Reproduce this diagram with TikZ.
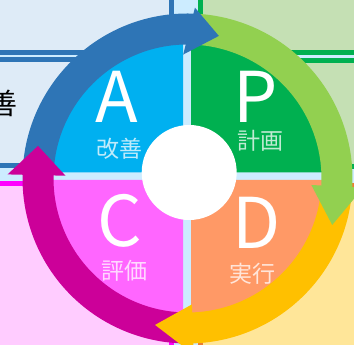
\documentclass[tikz,border=0pt]{standalone}
\usepackage{fontspec}
\newfontfamily\jpfont{Noto Sans CJK JP}
\definecolor{bandcol}{HTML}{CCECFF}
\definecolor{tlfill}{HTML}{DEEBF7}
\definecolor{tlline}{HTML}{2E75B6}
\definecolor{trfill}{HTML}{C5E0B4}
\definecolor{trline}{HTML}{00B050}
\definecolor{blfill}{HTML}{FFCCFF}
\definecolor{blline}{HTML}{FF00FF}
\definecolor{brfill}{HTML}{FFE699}
\definecolor{brline}{HTML}{ED7D31}
\definecolor{qA}{HTML}{00B0F0}
\definecolor{qP}{HTML}{00B050}
\definecolor{qC}{HTML}{FF66FF}
\definecolor{qD}{HTML}{FF9966}
\definecolor{arrA}{HTML}{2E75B6}
\definecolor{arrP}{HTML}{92D050}
\definecolor{arrD}{HTML}{FFC000}
\definecolor{arrC}{HTML}{CC0099}

\begin{document}
\begin{tikzpicture}[x=1pt, y=1pt,
    panel/.style={line width=5pt},
    bigletter/.style={white, font=\jpfont\fontsize{70}{70}\selectfont, anchor=base, inner sep=0pt},
    jplabel/.style={font=\jpfont\fontsize{23}{23}\selectfont, inner sep=0pt}]
    \useasboundingbox (0,0) rectangle (354,345);
    \clip (0,0) rectangle (354,345);

    % Panels behind the cycle
    \fill[bandcol] (0,0) rectangle (354,345);
    \draw[panel, fill=tlfill, draw=tlline] (-10,292.5) rectangle (171.5,355);
    \draw[panel, fill=tlfill, draw=tlline] (-10,179) rectangle (171.5,285.5);
    \draw[panel, fill=trfill, draw=trline] (200,292.5) rectangle (364,355);
    \draw[panel, fill=trfill, draw=trline] (200,178) rectangle (364,284.5);
    \draw[panel, fill=blfill, draw=blline] (-10,-10) rectangle (171.5,161.5);
    \draw[panel, fill=brfill, draw=brline] (200,-10) rectangle (364,159);
    \node[font=\jpfont\fontsize{29}{29}\selectfont, inner sep=0pt] (kaizen) at (2.5,241.5) {善};

    % Quadrants
    \fill[qA] (183,172.5) -- ++(-136,0) arc[start angle=180, end angle=90, radius=136] -- cycle;
    \fill[qP] (191,172.5) -- ++(0,136) arc[start angle=90, end angle=0, radius=136] -- cycle;
    \fill[qD] (191,165) -- ++(136,0) arc[start angle=0, end angle=-90, radius=136] -- cycle;
    \fill[qC] (183,165) -- ++(0,-136) arc[start angle=-90, end angle=-180, radius=136] -- cycle;

    % Cycle arrows: shafts, then heads
    \begin{scope}[shift={(187.5,166.5)}]
        \foreach \col/\a/\b in {arrA/177/87, arrP/86/-4.5, arrD/-5/-89.5, arrC/-91/-182.5}
            \fill[\col] (\a:165) arc[start angle=\a, end angle=\b, radius=165]
                -- (\b:134) arc[start angle=\b, end angle=\a, radius=134] -- cycle;
        \foreach \col/\bi/\ri/\bo/\ro/\t/\rt in {arrA/92/124/87.5/171/77.6/146,
                arrP/-3/124/-3/176/-17.8/152, arrD/-88/126/-88/176/-102.5/150,
                arrC/-181.3/122/-181.3/180/-192.3/153}
            \fill[\col] (\bi:\ri) -- (\bo:\ro) -- (\t:\rt) -- cycle;
    \end{scope}

    % Centre
    \fill[white] (189.2,172.5) circle[radius=47.5];

    % Letters
    \node[bigletter] (A) at (117,222) {A};
    \node[bigletter] (P) at (256,222) {P};
    \node[bigletter] (C) at (120,98.5) {C};
    \node[bigletter] (D) at (257,96.5) {D};
    \node[jplabel, white!75!qA] (Ajp) at (119,196) {改善};
    \node[jplabel, white!75!qP] (Pjp) at (260.5,204) {計画};
    \node[jplabel, white!75!qC] (Cjp) at (124,74.5) {評価};
    \node[jplabel, white!75!qD] (Djp) at (252.5,71) {実行};
\end{tikzpicture}
\end{document}
